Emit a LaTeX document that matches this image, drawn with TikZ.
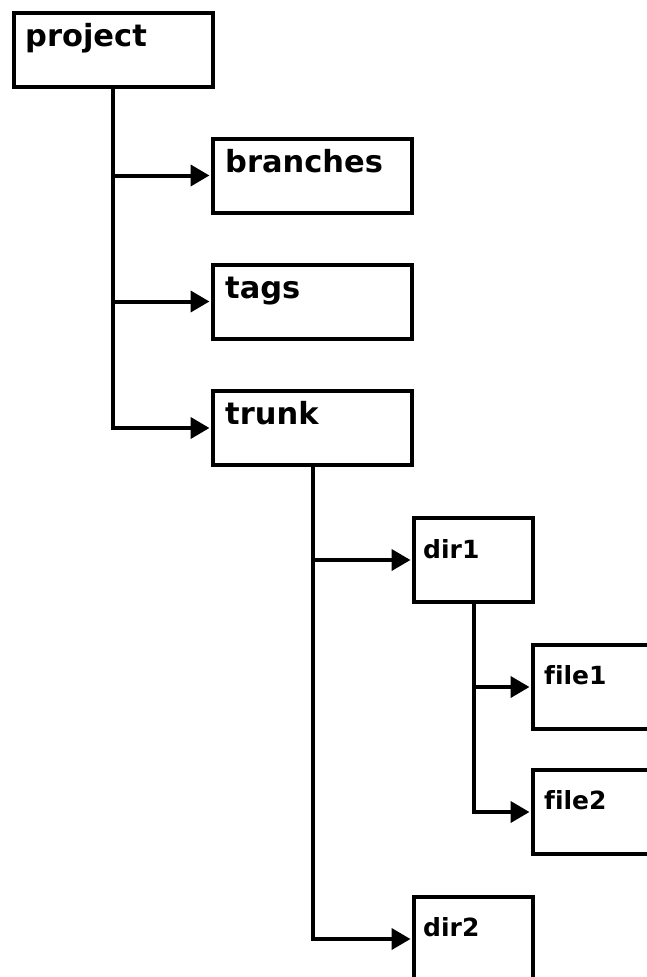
\documentclass[tikz,border=0pt]{standalone}
\usepackage{fontspec}
\setmainfont[Ligatures=NoCommon]{DejaVu Sans}
\usetikzlibrary{arrows.meta,positioning,calc}
\tikzset{
  box/.style={draw=black, line width=4pt, fill=white, rectangle, inner sep=0pt, anchor=north west},
  bigbox/.style={box, minimum width=199pt, minimum height=74pt},
  smallbox/.style={box, minimum width=119pt, minimum height=84pt},
  bigtext/.style={anchor=base west, inner sep=0pt, font=\fontsize{30.5}{36}\selectfont\bfseries},
  smalltext/.style={anchor=base west, inner sep=0pt, font=\fontsize{25}{30}\selectfont\bfseries},
  conn/.style={line width=4pt, shorten >=1.5pt, -{Triangle[length=19pt,width=21pt]}}
}
\begin{document}
\begin{tikzpicture}[x=1pt,y=-1pt]
  \useasboundingbox (0,0) rectangle (647,977);
  \clip (0,0) rectangle (647,977);
  \fill[white] (0,0) rectangle (647,977);
  % boxes
  \node[bigbox] (project) at (11.5,10.5) {};
  \node[bigbox] (branches) at (211,136.5) {};
  \node[bigbox] (tags) at (211,262.5) {};
  \node[bigbox] (trunk) at (211,389) {};
  \node[smallbox] (dir1) at (412,516) {};
  \node[smallbox] (file1) at (531,643) {};
  \node[smallbox] (file2) at (531,768) {};
  \node[smallbox] (dir2) at (412,895) {};
  % labels
  \node[bigtext] (projectT) at ($(project.north west)+(13.5,35.5)$) {project};
  \node[bigtext] (branchesT) at ($(branches.north west)+(14,35.5)$) {branches};
  \node[bigtext] (tagsT) at ($(tags.north west)+(14,35.5)$) {tags};
  \node[bigtext] (trunkT) at ($(trunk.north west)+(14,35.5)$) {trunk};
  \node[smalltext] (dir1T) at ($(dir1.north west)+(11,42)$) {dir1};
  \node[smalltext] (file1T) at ($(file1.north west)+(13,41)$) {file1};
  \node[smalltext] (file2T) at ($(file2.north west)+(13,41)$) {file2};
  \node[smalltext] (dir2T) at ($(dir2.north west)+(11,41)$) {dir2};
  % connectors
  \draw[conn] (project.south) |- (branches.west);
  \draw[conn] (project.south) |- (tags.west);
  \draw[conn] (project.south) |- (trunk.west);
  \draw[conn] (trunk.south) |- (dir1.west);
  \draw[conn] (trunk.south) |- (dir2.west);
  \draw[conn] (dir1.south) |- (file1.west);
  \draw[conn] (dir1.south) |- (file2.west);
\end{tikzpicture}
\end{document}
